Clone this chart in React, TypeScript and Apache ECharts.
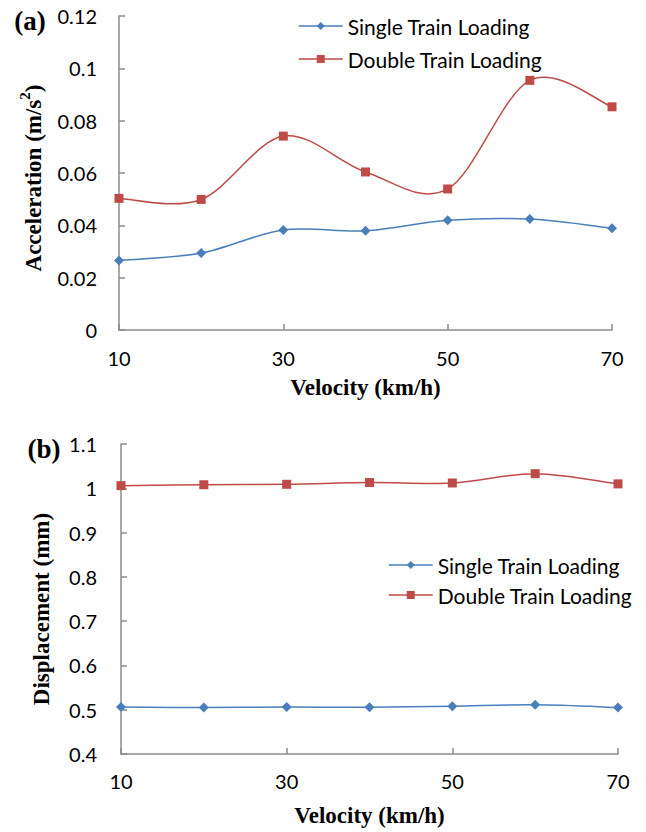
import React, { useEffect, useRef } from "react";
import * as echarts from "echarts";

const velocities = ["10", "20", "30", "40", "50", "60", "70"];
const accSingle = [0.0266, 0.0294, 0.0382, 0.0379, 0.0419, 0.0424, 0.0389];
const accDouble = [0.0503, 0.0499, 0.0741, 0.0604, 0.0539, 0.0954, 0.0853];
const dispSingle = [0.506, 0.505, 0.506, 0.5055, 0.508, 0.511, 0.505];
const dispDouble = [1.006, 1.008, 1.009, 1.013, 1.012, 1.033, 1.01];
const seriesNames = ["Single Train Loading", "Double Train Loading"];

const BLUE = "#4A7EBB";
const RED = "#BE4B48";
const AXIS = "#8C8C8C";
const SANS = "Lato, 'Open Sans', sans-serif";
const SERIF = "'Liberation Serif', 'Times New Roman', serif";

export default function App() {
  const ref = useRef<HTMLDivElement>(null);
  useEffect(() => {
    document.body.style.margin = "0";
    const chart = echarts.init(ref.current!, null, { renderer: "svg" });
    const xAxisBase = (gridIndex: number, nameGap: number, margin: number) => ({
      type: "category",
      gridIndex,
      data: velocities,
      boundaryGap: false,
      axisLine: { lineStyle: { color: AXIS, width: 1.5 } },
      axisTick: { inside: true, length: 6, interval: 1, lineStyle: { color: AXIS, width: 1.5 } },
      axisLabel: { interval: 1, color: "#000", fontFamily: SANS, fontSize: 20, margin },
      name: "Velocity (km/h)",
      nameLocation: "middle",
      nameGap,
      nameTextStyle: { fontFamily: SERIF, fontWeight: "bold", fontSize: 23, color: "#000" },
      splitLine: { show: false },
    });
    const yAxisBase = (gridIndex: number, min: number, max: number, interval: number, margin: number) => ({
      type: "value",
      gridIndex,
      min,
      max,
      interval,
      axisLine: { show: true, lineStyle: { color: AXIS, width: 1.5 } },
      axisTick: { show: true, inside: true, length: 6, lineStyle: { color: AXIS, width: 1.5 } },
      axisLabel: { color: "#000", fontFamily: SANS, fontSize: 20, margin },
      splitLine: { show: false },
    });
    // Smooth (Catmull-Rom style) curve segments drawn through the axes' own coordinate mapping
    const curve = (values: number[], idx: number, color: string) => ({
      type: "custom",
      name: "_curve" + idx + color,
      xAxisIndex: idx,
      yAxisIndex: idx,
      data: values.map((v, i) => [i, v]),
      silent: true,
      renderItem: (params: any, api: any) => {
        const i = params.dataIndex;
        const n = values.length;
        if (i >= n - 1) return null;
        const c = (k: number) => api.coord([k, values[k]]);
        const p0 = c(Math.max(i - 1, 0));
        const p1 = c(i);
        const p2 = c(i + 1);
        const p3 = c(Math.min(i + 2, n - 1));
        return {
          type: "bezierCurve",
          shape: {
            x1: p1[0],
            y1: p1[1],
            cpx1: p1[0] + (p2[0] - p0[0]) / 6,
            cpy1: p1[1] + (p2[1] - p0[1]) / 6,
            cpx2: p2[0] - (p3[0] - p1[0]) / 6,
            cpy2: p2[1] - (p3[1] - p1[1]) / 6,
            x2: p2[0],
            y2: p2[1],
          },
          style: { stroke: color, lineWidth: 1.5, fill: null },
        };
      },
    });
    const mk = (name: string, data: number[], idx: number, color: string, symbol: string, size: number) => ({
      type: "line",
      name,
      data,
      xAxisIndex: idx,
      yAxisIndex: idx,
      symbol,
      symbolSize: size,
      lineStyle: { color, width: 1.5, opacity: 0 },
      itemStyle: { color },
      z: 3,
    });
    const legendBase = (left: number, top: number, itemGap: number) => ({
      data: seriesNames,
      orient: "vertical",
      left,
      top,
      padding: 0,
      itemWidth: 44,
      itemHeight: 10,
      itemGap,
      lineStyle: { width: 1.5, opacity: 1 },
      textStyle: { fontFamily: SANS, fontSize: 21, lineHeight: 22, color: "#000" },
    });
    chart.setOption({
      animation: false,
      backgroundColor: "#fff",
      grid: [
        { left: 119, top: 16, width: 493, height: 314 },
        { left: 121, top: 444, width: 497, height: 310 },
      ],
      xAxis: [xAxisBase(0, 46, 18), xAxisBase(1, 50, 17)],
      yAxis: [yAxisBase(0, 0, 0.12, 0.02, 22), yAxisBase(1, 0.4, 1.1, 0.1, 24)],
      legend: [legendBase(298, 15, 11), legendBase(388, 554, 8)],
      graphic: [
        {
          type: "text",
          x: 30,
          y: 21,
          style: { text: "(a)", font: `bold 27px ${SERIF}`, fill: "#000", align: "center", verticalAlign: "middle" },
        },
        {
          type: "text",
          x: 44,
          y: 449,
          style: { text: "(b)", font: `bold 27px ${SERIF}`, fill: "#000", align: "center", verticalAlign: "middle" },
        },
        {
          type: "text",
          x: 31,
          y: 178,
          rotation: Math.PI / 2,
          style: {
            text: "{a|Acceleration (m/s}{s|2}{a|)}",
            align: "center",
            verticalAlign: "middle",
            fill: "#000",
            rich: {
              a: { font: `bold 23px ${SERIF}`, lineHeight: 28, verticalAlign: "bottom" },
              s: { font: `bold 15px ${SERIF}`, lineHeight: 28, verticalAlign: "top" },
            },
          },
        },
        {
          type: "text",
          x: 41,
          y: 609,
          rotation: Math.PI / 2,
          style: {
            text: "Displacement (mm)",
            font: `bold 23px ${SERIF}`,
            fill: "#000",
            align: "center",
            verticalAlign: "middle",
          },
        },
      ],
      series: [
        curve(accSingle, 0, BLUE),
        curve(accDouble, 0, RED),
        curve(dispSingle, 1, BLUE),
        curve(dispDouble, 1, RED),
        mk(seriesNames[0], accSingle, 0, BLUE, "diamond", 10),
        mk(seriesNames[1], accDouble, 0, RED, "rect", 9),
        mk(seriesNames[0], dispSingle, 1, BLUE, "diamond", 10),
        mk(seriesNames[1], dispDouble, 1, RED, "rect", 9),
      ],
    });
    return () => chart.dispose();
  }, []);
  return <div ref={ref} style={{ width: 646, height: 832 }} />;
}
